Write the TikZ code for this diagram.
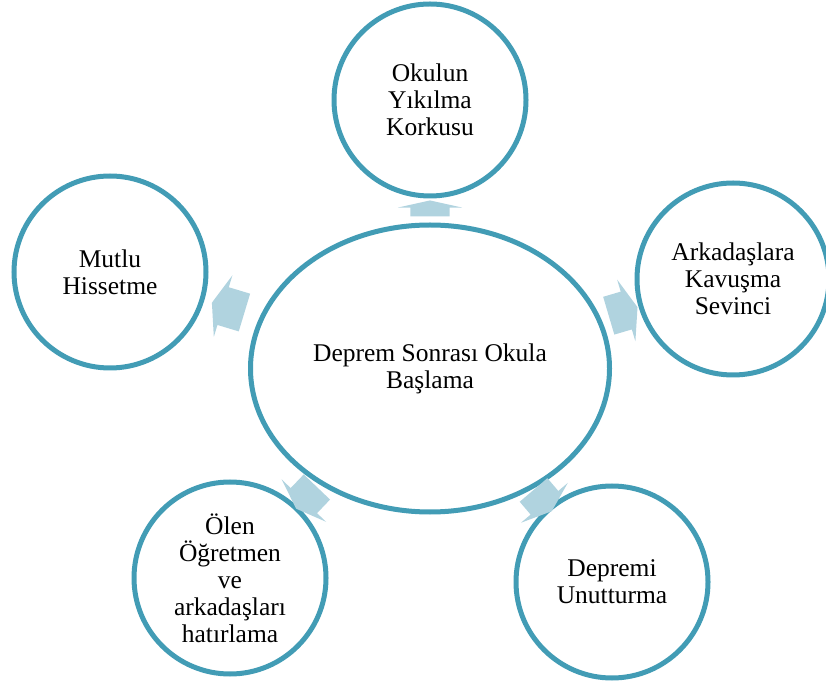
\documentclass[tikz,border=0pt]{standalone}
\usepackage{fontspec}
\setmainfont{Liberation Serif}
\usetikzlibrary{shapes.geometric}
\usetikzlibrary{shapes.arrows}
\definecolor{ring}{RGB}{66,156,181}
\definecolor{pale}{RGB}{176,211,223}

\begin{document}
\begin{tikzpicture}[x=1pt, y=1pt,
  main/.style = {draw=ring, line width=5pt, circle, minimum size=192pt, inner sep=0pt, align=center, font=\fontsize{25.5}{27}\selectfont},
  hub/.style = {main, ellipse, minimum width=359pt, minimum height=287pt},
  blk/.style = {single arrow, fill=pale, draw=none, sloped, inner sep=0pt, minimum height=32pt, single arrow head extend=12.5pt, single arrow tip angle=140}]
\useasboundingbox (0,0) rectangle (826,688);

\node[hub] (S) at (430,319.5) {Deprem Sonras\i{} Okula\\Ba\c{s}lama};
\node[main] (Y) at (430,588) {Okulun\\Y\i{}k\i{}lma\\Korkusu};
\node[main] (K) at (733,409) {Arkada\c{s}lara\\Kavu\c{s}ma\\Sevinci};
\node[main] (U) at (612,106) {Depremi\\Unutturma};
\node[main] (O) at (230,110) {\"Olen\\\"O\u{g}retmen\\ve\\arkada\c{s}lar\i{}\\hat\i{}rlama};
\node[main] (M) at (110,416) {Mutlu\\Hissetme};

\path[allow upside down] (S.center) -- (Y.center) node[blk, pos=0.588, minimum height=16pt, single arrow tip angle=155] {\rule{0pt}{39pt}};
\path[allow upside down] (S.center) -- (K.center) node[blk, pos=0.626, minimum height=30pt] {\rule{0pt}{39pt}};
\path[allow upside down] (S.center) -- (U.center) node[blk, pos=0.607, minimum height=28pt] {\rule{0pt}{36pt}};
\path[allow upside down] (S.center) -- (O.center) node[blk, pos=0.606, minimum height=30pt] {\rule{0pt}{36pt}};
\path[allow upside down] (S.center) -- (M.center) node[blk, pos=0.62, minimum height=34pt] {\rule{0pt}{39pt}};

\end{tikzpicture}
\end{document}
